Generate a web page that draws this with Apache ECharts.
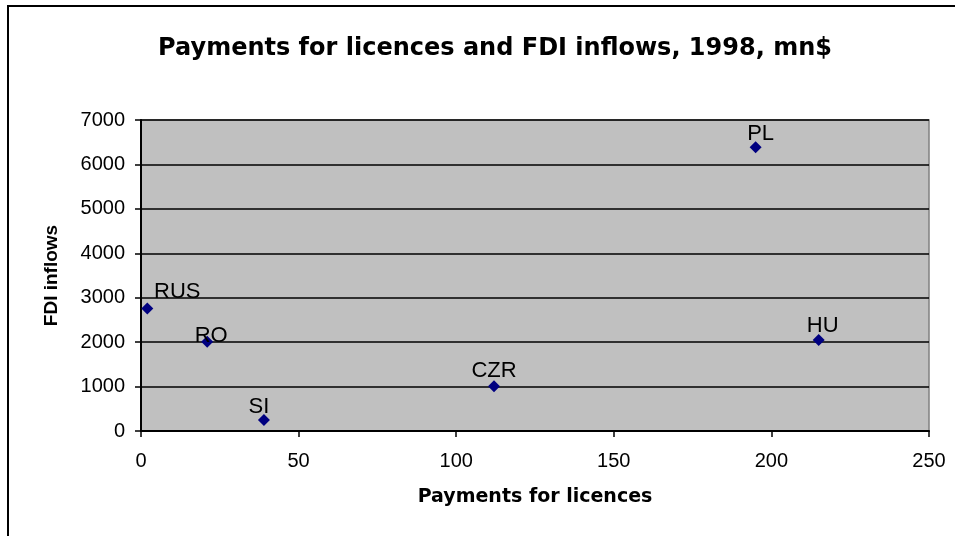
<!DOCTYPE html>
<html>
<head>
<meta charset="utf-8">
<script src="https://cdn.jsdelivr.net/npm/echarts@6/dist/echarts.min.js"></script>
<style>
  html, body { margin: 0; padding: 0; background: #fff; }
</style>
</head>
<body>
<div id="chart" style="width: 955px; height: 536px;"></div>
<script>
// data
const countries = ['RUS', 'RO', 'SI', 'CZR', 'PL', 'HU'];
const licencePayments = [2, 21, 39, 112, 195, 215];
const fdiInflows = [2760, 2010, 250, 1010, 6385, 2050];

const xTicks = { min: 0, max: 250, interval: 50 };
const yTicks = { min: 0, max: 7000, interval: 1000 };

// where each country label sits relative to its marker
const labelOffset = {
  RUS: [30, -16],
  RO: [4, -6],
  SI: [-5, -13],
  CZR: [0, -15],
  PL: [5, -13],
  HU: [4, -14]
};

const arial = '"Liberation Sans", Arial, sans-serif';

const myChart = echarts.init(document.getElementById('chart'));

const points = countries.map((name, i) => ({
  name: name,
  value: [licencePayments[i], fdiInflows[i]],
  label: { offset: labelOffset[name] }
}));

const option = {
  animation: false,
  backgroundColor: '#fff',
  title: {
    text: 'Payments for licences and FDI inflows, 1998, mn$',
    left: 490,
    top: 32,
    textAlign: 'center',
    textStyle: {
      fontFamily: 'DejaVu Sans',
      fontWeight: 'bold',
      fontSize: 24,
      color: '#000'
    }
  },
  graphic: [
    {
      type: 'rect',
      shape: { x: 8, y: 6, width: 1000, height: 600 },
      style: { fill: 'none', stroke: '#000', lineWidth: 2 },
      silent: true
    }
  ],
  grid: {
    left: 141,
    top: 120,
    right: 26,
    bottom: 105,
    show: true,
    backgroundColor: '#C0C0C0',
    borderColor: '#808080',
    borderWidth: 1.5
  },
  xAxis: {
    type: 'value',
    min: xTicks.min,
    max: xTicks.max,
    interval: xTicks.interval,
    name: 'Payments for licences',
    nameLocation: 'middle',
    nameGap: 57,
    nameTextStyle: {
      fontFamily: 'DejaVu Sans',
      fontWeight: 'bold',
      fontSize: 19,
      color: '#000'
    },
    axisLine: { show: true, onZero: false, lineStyle: { color: '#000', width: 2 } },
    axisTick: { show: true, inside: false, length: 6, lineStyle: { color: '#000', width: 1.5 } },
    axisLabel: {
      margin: 20,
      color: '#000',
      fontFamily: arial,
      fontSize: 20,
      formatter: v => String(v)
    },
    splitLine: { show: false }
  },
  yAxis: {
    type: 'value',
    min: yTicks.min,
    max: yTicks.max,
    interval: yTicks.interval,
    name: 'FDI inflows',
    nameLocation: 'middle',
    nameGap: 80,
    nameTextStyle: {
      fontFamily: arial,
      fontWeight: 'bold',
      fontSize: 19,
      color: '#000'
    },
    axisLine: { show: true, onZero: false, lineStyle: { color: '#000', width: 2 } },
    axisTick: { show: true, inside: false, length: 6, lineStyle: { color: '#000', width: 1.5 } },
    axisLabel: {
      margin: 16,
      color: '#000',
      fontFamily: arial,
      fontSize: 20,
      formatter: v => String(v)
    },
    splitLine: { show: true, lineStyle: { color: '#000', width: 1.5 } }
  },
  series: [
    {
      type: 'scatter',
      symbol: 'diamond',
      symbolSize: 12,
      itemStyle: { color: '#000080', opacity: 1 },
      label: {
        show: true,
        position: 'inside',
        formatter: '{b}',
        color: '#000',
        fontFamily: arial,
        fontSize: 22
      },
      data: points
    }
  ]
};

myChart.setOption(option);
</script>
</body>
</html>
